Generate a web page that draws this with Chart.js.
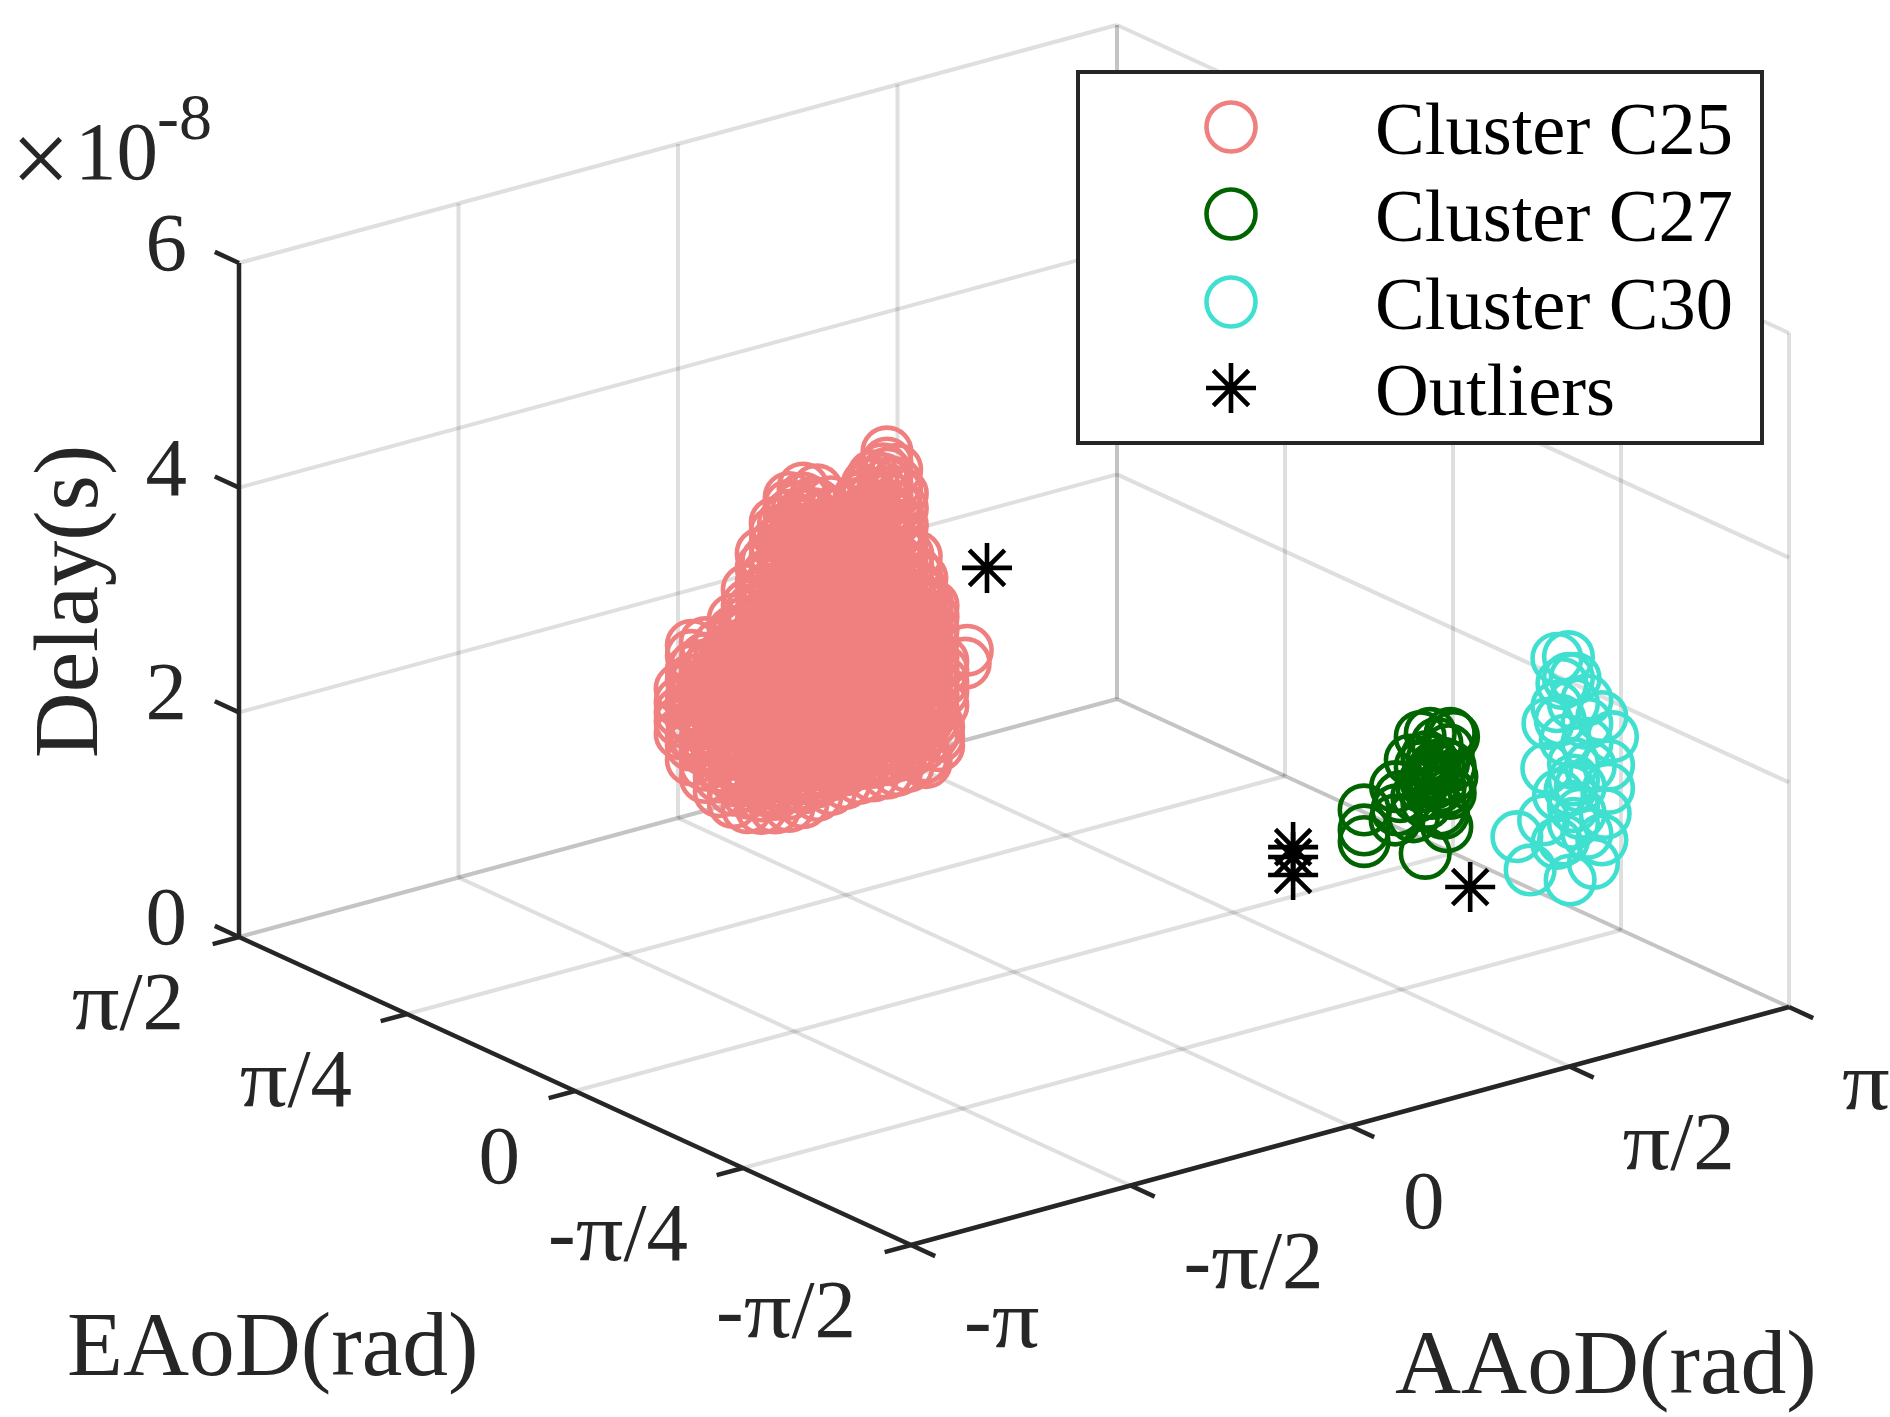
<!DOCTYPE html>
<html><head><meta charset="utf-8">
<style>html,body{margin:0;padding:0;background:#fff}canvas{display:block}</style>
<script src="https://cdn.jsdelivr.net/npm/chart.js@4"></script>
</head><body><canvas id="c" width="1890" height="1417"></canvas>
<script>
// ---- axis ticks (radians; delay in units of 1e-8 s)
const PI = Math.PI;
const aaodTicks = [-PI, -PI/2, 0, PI/2, PI];
const aaodTickLabels = ['-π', '-π/2', '0', 'π/2', 'π'];
const eaodTicks = [PI/2, PI/4, 0, -PI/4, -PI/2];
const eaodTickLabels = ['π/2', 'π/4', '0', '-π/4', '-π/2'];
const delayTicks = [0, 2, 4, 6];
const delayTickLabels = ['0', '2', '4', '6'];
const seriesNames = ['Cluster C25', 'Cluster C27', 'Cluster C30', 'Outliers'];

// ---- Cluster C25 (dense cloud): one AAoD column -> list of delays
const c25Eaod = 0.3;
const c25Aaod = [-1.93,-1.85,-1.75,-1.65,-1.55,-1.45,-1.35,-1.25,-1.15,-1.05,-0.95,-0.85,-0.75,-0.65,-0.55,-0.45,-0.38,-0.30,-0.20,-0.12,-0.05,0.125,0.11,
  -1.82,-1.71,-1.61,-1.52,-1.42,-1.31,-1.19,-1.09,-0.98,-0.88,-0.79,-0.69,-0.59,-0.48,-0.34,-0.24,-0.16,-0.08,-0.17];
const c25Delay = [
[2.51,2.62,2.70,2.79,2.91],
[2.25,2.38,2.47,2.61,2.73,2.82,2.96,3.05,3.18,3.27],
[2.06,2.17,2.30,2.41,2.54,2.63,2.77,2.88,3.01,3.12,3.26],
[1.90,2.03,2.12,2.26,2.37,2.51,2.60,2.74,2.85,2.97,3.08,3.21],
[1.77,1.88,2.01,2.14,2.23,2.36,2.49,2.58,2.71,2.83,2.94,3.07,3.16,3.29,3.40],
[1.69,1.82,1.93,2.05,2.18,2.27,2.41,2.52,2.65,2.76,2.89,2.98,3.12,3.24,3.35,3.49,3.63],
[1.65,1.76,1.89,2.00,2.13,2.24,2.37,2.46,2.60,2.71,2.84,2.95,3.07,3.18,3.31,3.42,3.55,3.66,3.79,3.92],
[1.62,1.74,1.85,1.98,2.09,2.21,2.32,2.45,2.56,2.68,2.79,2.92,3.03,3.15,3.26,3.39,3.50,3.62,3.73,3.86,3.97,4.08,4.16],
[1.60,1.71,1.84,1.95,2.08,2.19,2.31,2.42,2.55,2.66,2.78,2.89,3.02,3.13,3.25,3.36,3.49,3.60,3.72,3.83,3.96,4.07,4.19,4.28,4.35],
[1.60,1.73,1.83,1.96,2.07,2.20,2.30,2.43,2.54,2.67,2.77,2.90,3.01,3.14,3.24,3.37,3.48,3.61,3.71,3.84,3.95,4.08,4.18,4.31,4.40],
[1.63,1.75,1.86,1.99,2.10,2.22,2.33,2.46,2.57,2.69,2.80,2.93,3.04,3.16,3.27,3.40,3.51,3.63,3.74,3.87,3.98,4.10,4.22,4.35],
[1.65,1.78,1.88,2.01,2.12,2.25,2.35,2.48,2.59,2.72,2.82,2.95,3.06,3.19,3.29,3.42,3.53,3.66,3.76,3.89,4.00,4.11,4.21],
[1.67,1.79,1.90,2.03,2.14,2.26,2.37,2.50,2.61,2.73,2.84,2.97,3.08,3.20,3.31,3.44,3.55,3.67,3.78,3.90,3.99,4.10],
[1.68,1.81,1.91,2.04,2.15,2.28,2.38,2.51,2.62,2.75,2.85,2.98,3.09,3.22,3.32,3.45,3.56,3.69,3.79,3.92,4.03,4.13,4.18],
[1.67,1.79,1.90,2.03,2.14,2.27,2.37,2.50,2.61,2.74,2.84,2.97,3.08,3.21,3.31,3.44,3.55,3.68,3.78,3.91,4.02,4.15,4.28,4.34],
[1.66,1.78,1.89,2.02,2.13,2.25,2.36,2.49,2.60,2.72,2.83,2.96,3.07,3.19,3.30,3.43,3.54,3.66,3.77,3.90,4.01,4.13,4.24,4.33,4.42,4.52],
[1.66,1.79,1.89,2.02,2.13,2.26,2.36,2.49,2.60,2.73,2.83,2.96,3.07,3.20,3.30,3.43,3.54,3.67,3.77,3.90,4.01,4.14,4.22,4.34],
[1.67,1.79,1.90,2.03,2.14,2.26,2.37,2.50,2.61,2.73,2.84,2.97,3.08,3.20,3.31,3.44,3.55],
[1.70,1.82,1.93,2.06,2.17,2.29,2.40,2.53,2.64,2.76,2.87,3.00,3.11,3.21,3.31],
[1.89,2.01,2.12,2.25,2.36,2.48,2.59,2.72,2.83,2.94,3.04],
[2.13,2.25,2.34,2.44,2.52],
[2.56],
[2.45],
[2.44,2.57,2.69,2.83,2.94,3.08],
[2.28,2.42,2.55,2.66,2.80,2.92,3.06],
[2.08,2.21,2.33,2.46,2.57,2.70,2.81,2.95,3.09],
[1.95,2.07,2.19,2.32,2.44,2.54,2.67,2.79,2.90,3.03,3.14,3.27],
[1.87,1.99,2.11,2.24,2.35,2.47,2.60,2.70,2.83,2.94,3.07,3.18,3.30,3.44],
[1.81,1.93,2.06,2.17,2.29,2.41,2.52,2.64,2.75,2.88,2.99,3.11,3.23,3.35,3.46,3.59,3.71,3.84],
[1.78,1.90,2.02,2.14,2.26,2.37,2.49,2.61,2.72,2.84,2.96,3.08,3.19,3.31,3.43,3.55,3.66,3.78,3.90,4.02,4.14],
[1.77,1.89,2.01,2.13,2.25,2.36,2.48,2.60,2.73,2.84,2.95,3.07,3.19,3.30,3.42,3.54,3.67,3.78,3.89,4.01,4.13,4.24],
[1.79,1.91,2.03,2.15,2.27,2.38,2.51,2.62,2.74,2.86,2.97,3.09,3.21,3.33,3.44,3.56,3.68,3.80,3.91,4.03,4.15,4.25],
[1.80,1.92,2.04,2.16,2.29,2.40,2.52,2.63,2.76,2.87,2.99,3.10,3.23,3.34,3.46,3.57,3.70,3.81,3.93,4.03],
[1.81,1.94,2.05,2.18,2.30,2.42,2.53,2.65,2.77,2.89,3.00,3.12,3.24,3.36,3.47,3.59,3.71,3.83,3.94],
[1.82,1.95,2.06,2.19,2.31,2.43,2.54,2.66,2.78,2.90,3.01,3.13,3.25,3.37,3.48,3.60,3.72,3.84,3.97],
[1.82,1.94,2.06,2.18,2.30,2.41,2.54,2.65,2.77,2.89,3.01,3.12,3.24,3.36,3.48,3.59,3.71,3.83,3.95,4.06,4.20,4.28],
[1.80,1.92,2.04,2.17,2.29,2.40,2.52,2.64,2.76,2.87,3.00,3.11,3.23,3.35,3.46,3.58,3.70,3.82,3.93,4.05,4.17,4.29,4.38],
[1.81,1.93,2.05,2.17,2.29,2.40,2.52,2.64,2.76,2.87,2.99,3.11,3.23,3.34,3.46,3.58,3.70,3.83,3.98,4.11],
[1.85,1.97,2.09,2.21,2.33,2.44,2.56,2.68,2.80,2.91,3.03,3.15,3.24,3.38,3.52],
[2.03,2.15,2.27,2.39,2.51,2.62,2.74,2.86,2.97,3.08],
[1.78,1.86,1.95],
[1.66,1.71]
];

// ---- Cluster C27
const c27Eaod = -0.8;
const c27Aaod = [1.281,1.281,1.281,1.506,1.503,1.515,1.611,1.682,1.754,1.897,1.921,1.885,1.849,1.730,1.778,1.825,1.873,1.730,1.658,1.825,1.873,1.718,1.849,1.730,1.802,1.897,1.909,1.897,1.634,1.539,1.682,1.766,1.754,1.718,1.790,1.825,1.766,1.694];
const c27Delay = [1.709,1.531,1.427,1.840,1.544,1.630,2.042,2.226,2.231,2.183,2.146,2.042,1.932,1.853,1.778,1.881,1.687,1.616,1.699,1.525,1.360,1.175,1.487,2.032,2.126,1.887,1.793,1.649,1.529,1.740,1.959,1.990,1.875,1.828,1.923,1.732,1.693,1.776];

// ---- Cluster C30
const c30Eaod = -1.0;
const c30Aaod = [2.354,2.437,2.437,2.485,2.390,2.354,2.569,2.473,2.290,2.378,2.569,2.676,2.752,2.414,2.569,2.282,2.473,2.593,2.724,2.724,2.366,2.521,2.473,2.700,2.449,2.259,2.068,2.163,2.449,2.616,2.676,2.402,2.521,2.473,2.354,2.569,2.473];
const c30Delay = [2.871,2.858,2.665,2.649,2.636,2.441,2.428,2.430,2.314,2.314,2.220,2.244,2.040,2.124,2.042,1.916,1.896,1.827,1.796,1.589,1.650,1.672,1.748,1.374,1.667,1.464,1.380,1.052,0.866,0.958,1.146,1.238,1.435,1.362,1.224,1.241,1.511];

// ---- Outliers
const outAaod = [0.266,1.385,1.385,1.385,2.04];
const outEaod = [0.3,-0.4,-0.4,-0.4,-0.8];
const outDelay = [3.246,0.994,0.906,0.745,0.767];

// ---- orthographic view of the 3-D box
const view = { ox:911, oy:1245, ax:878, ay:-238, ex:-672, ey:-308, dz:-674, dMax:6 };
function project(a, e, d) {
  const ua = (a + PI) / (2 * PI), ue = (e + PI / 2) / PI, ud = d / view.dMax;
  return { x: view.ox + ua * view.ax + ue * view.ex, y: view.oy + ua * view.ay + ue * view.ey + ud * view.dz };
}
const aMin = -PI, aMax = PI, eMin = -PI/2, eMax = PI/2, dMax = 6;

const GRID = 'rgba(38,38,38,0.15)', AXIS = '#262626';
const lineDs = (pts, color, width, order) => ({ type:'line', data:pts, showLine:true, borderColor:color, borderWidth:width, pointRadius:0, fill:false, tension:0, order, borderCapStyle:'butt' });
const datasets = [];
// walls and floor grid
aaodTicks.forEach(a => {
  datasets.push(lineDs([project(a,eMin,0), project(a,eMax,0)], GRID, 4, 20));
  datasets.push(lineDs([project(a,eMax,0), project(a,eMax,dMax)], GRID, 4, 20));
});
eaodTicks.forEach(e => {
  datasets.push(lineDs([project(aMin,e,0), project(aMax,e,0)], GRID, 4, 20));
  datasets.push(lineDs([project(aMax,e,0), project(aMax,e,dMax)], GRID, 4, 20));
});
delayTicks.forEach(d => {
  datasets.push(lineDs([project(aMin,eMax,d), project(aMax,eMax,d)], GRID, 4, 20));
  datasets.push(lineDs([project(aMax,eMax,d), project(aMax,eMin,d)], GRID, 4, 20));
});
// axes and ticks
datasets.push(lineDs([project(aMin,eMax,0), project(aMin,eMax,dMax)], AXIS, 4.5, 10));
datasets.push(lineDs([project(aMin,eMax,0), project(aMin,eMin,0)], AXIS, 4.5, 10));
datasets.push(lineDs([project(aMin,eMin,0), project(aMax,eMin,0)], AXIS, 4.5, 10));
const tickE = 0.036 * PI, tickA = 0.03 * 2 * PI;
delayTicks.forEach(d => datasets.push(lineDs([project(aMin,eMax,d), project(aMin,eMax+tickE,d)], AXIS, 4.5, 10)));
eaodTicks.forEach(e => datasets.push(lineDs([project(aMin,e,0), project(aMin-tickA,e,0)], AXIS, 4.5, 10)));
aaodTicks.forEach(a => datasets.push(lineDs([project(a,eMin,0), project(a,eMin-tickE,0)], AXIS, 4.5, 10)));
// scatter series
const scatterDs = (label, pts, color, style, width, radius, order) => ({ type:'scatter', label, data:pts, pointStyle:style, pointRadius:radius, pointHoverRadius:radius, pointBorderWidth:width, pointBackgroundColor:'transparent', pointBorderColor:color, borderColor:color, backgroundColor:'transparent', showLine:false, order });
const MARK = 24.3, STROKE = 4.6;
const COLORS = ['#F08080', '#006400', '#40E0D0', '#000000'];
const c25Pts = c25Aaod.flatMap((a, i) => c25Delay[i].map(d => project(a, c25Eaod, d)));
const c27Pts = c27Aaod.map((a, i) => project(a, c27Eaod, c27Delay[i]));
const c30Pts = c30Aaod.map((a, i) => project(a, c30Eaod, c30Delay[i]));
const outPts = outAaod.map((a, i) => project(a, outEaod[i], outDelay[i]));
datasets.push(scatterDs(seriesNames[0], c25Pts, COLORS[0], 'circle', STROKE, MARK, 4));
datasets.push(scatterDs(seriesNames[1], c27Pts, COLORS[1], 'circle', STROKE, MARK, 3));
datasets.push(scatterDs(seriesNames[2], c30Pts, COLORS[2], 'circle', STROKE, MARK, 2));
datasets.push(scatterDs(seriesNames[3], outPts, COLORS[3], 'star', STROKE, 25, 1));

const SERIF = '"Liberation Serif", "Times New Roman", serif';
const PI_STRETCH = 1.14;
// tick label with a slightly wider pi glyph, kept as real text
function labelWidth(ctx, s) {
  return [...s].reduce((w, c) => w + ctx.measureText(c).width * (c === 'π' ? PI_STRETCH : 1), 0);
}
function drawLabel(ctx, s, x, y, align) {
  let cx = align === 'right' ? x - labelWidth(ctx, s) : x;
  ctx.textAlign = 'left';
  [...s].forEach(c => {
    const w = ctx.measureText(c).width;
    if (c === 'π') {
      ctx.save(); ctx.translate(cx, y); ctx.scale(PI_STRETCH, 1); ctx.fillText(c, 0, 0); ctx.restore();
      cx += w * PI_STRETCH;
    } else { ctx.fillText(c, cx, y); cx += w; }
  });
}
const textPlugin = {
  id: 'axisText',
  afterDatasetsDraw(chart) {
    const ctx = chart.ctx;
    ctx.save();
    ctx.fillStyle = '#262626';
    ctx.textBaseline = 'alphabetic';
    ctx.font = '83px ' + SERIF;
    ctx.textAlign = 'right';
    delayTicks.forEach((d, i) => { const p = project(aMin, eMax, d); ctx.fillText(delayTickLabels[i], p.x - 52, p.y + 7); });
    eaodTicks.forEach((e, i) => { const p = project(aMin, e, 0); drawLabel(ctx, eaodTickLabels[i], p.x - 55, p.y + 92, 'right'); });
    aaodTicks.forEach((a, i) => { const p = project(a, eMin, 0); drawLabel(ctx, aaodTickLabels[i], p.x + 53, p.y + 102, 'left'); });
    ctx.textAlign = 'left';
    // exponent
    ctx.fillText('10', 75, 179);
    ctx.font = '66px ' + SERIF;
    ctx.fillText('-8', 157, 139);
    ctx.font = '105px ' + SERIF;
    ctx.fillText('×', 11, 194);
    // axis titles
    ctx.font = '91.5px ' + SERIF;
    ctx.fillText('EAoD(rad)', 67, 1375);
    ctx.fillText('AAoD(rad)', 1395, 1393);
    ctx.save();
    ctx.translate(97, 758);
    ctx.rotate(-PI / 2);
    ctx.font = '91px ' + SERIF;
    ctx.fillText('Delay(s)', 0, 0);
    ctx.restore();
    // legend
    const box = { x:1078, y:72, w:684, h:371 }, rows = [127, 214, 302, 388], mx = 1231, tx = 1375;
    ctx.fillStyle = '#ffffff';
    ctx.fillRect(box.x, box.y, box.w, box.h);
    ctx.strokeStyle = '#262626';
    ctx.lineWidth = 4;
    ctx.strokeRect(box.x, box.y, box.w, box.h);
    seriesNames.forEach((name, i) => {
      ctx.strokeStyle = COLORS[i];
      ctx.fillStyle = 'rgba(0,0,0,0)';
      ctx.lineWidth = 4.6;
      Chart.helpers.drawPoint(ctx, { pointStyle: i === 3 ? 'star' : 'circle', radius: i === 3 ? 25 : 24.5, borderWidth: 4.6, rotation: 0 }, mx, rows[i]);
      ctx.fillStyle = '#000000';
      ctx.textBaseline = 'alphabetic';
      ctx.textAlign = 'left';
      ctx.font = '74.5px ' + SERIF;
      ctx.fillText(name, tx, rows[i] + 27);
    });
    ctx.restore();
  }
};

new Chart(document.getElementById('c').getContext('2d'), {
  type: 'scatter',
  data: { datasets },
  plugins: [textPlugin],
  options: {
    responsive: false,
    animation: false,
    devicePixelRatio: 1,
    layout: { padding: 0, autoPadding: false },
    events: [],
    plugins: { legend: { display: false }, tooltip: { enabled: false }, title: { display: false } },
    scales: {
      x: { type:'linear', min:0, max:1890, display:false },
      y: { type:'linear', min:0, max:1417, reverse:true, display:false }
    }
  }
});
</script></body></html>
